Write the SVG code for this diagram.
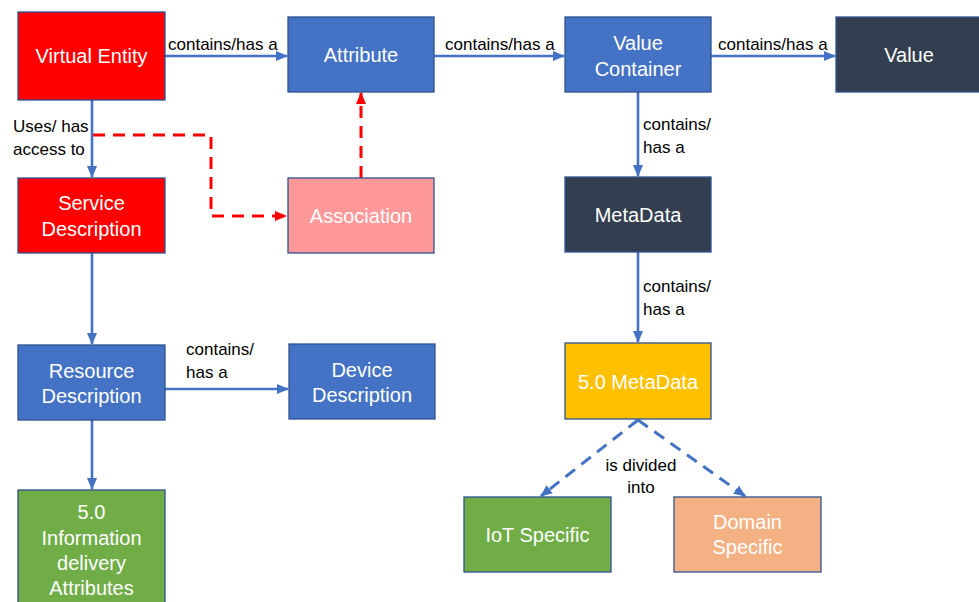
<svg xmlns="http://www.w3.org/2000/svg" width="979" height="602" viewBox="0 0 979 602">
<style>
.n{stroke:#2F528F;stroke-width:1.3}
.t{font-family:"Liberation Sans",Arial,sans-serif;font-size:20px;fill:#fff;text-anchor:middle}
.l{font-family:"Liberation Sans",Arial,sans-serif;font-size:17px;fill:#000}
.b{stroke:#4472C4;stroke-width:2.6;fill:none}
.bd{stroke:#4472C4;stroke-width:3;fill:none;stroke-dasharray:12 8}
.rd{stroke:#FF0000;stroke-width:3;fill:none;stroke-dasharray:12 8}
</style>
<defs>
<marker id="ab" markerUnits="userSpaceOnUse" markerWidth="12" markerHeight="12" viewBox="0 0 12 12" refX="11" refY="6" orient="auto"><path d="M0,1 L12,6 L0,11 Z" fill="#4472C4"/></marker>
<marker id="ar" markerUnits="userSpaceOnUse" markerWidth="12" markerHeight="12" viewBox="0 0 12 12" refX="11" refY="6" orient="auto"><path d="M0,1 L12,6 L0,11 Z" fill="#FF0000"/></marker>
</defs>
<rect width="979" height="602" fill="#fff"/>
<g id="connectors">
<line class="b" x1="165" y1="56" x2="287" y2="56" marker-end="url(#ab)"/>
<text class="l" x="168" y="50">contains/has a</text>
<line class="b" x1="434" y1="56" x2="564" y2="56" marker-end="url(#ab)"/>
<text class="l" x="445" y="50">contains/has a</text>
<line class="b" x1="711" y1="56" x2="835" y2="56" marker-end="url(#ab)"/>
<text class="l" x="718" y="50">contains/has a</text>
<line class="b" x1="638" y1="92" x2="638" y2="176" marker-end="url(#ab)"/>
<text class="l" x="643" y="130">contains/</text>
<text class="l" x="643" y="153">has a</text>
<line class="b" x1="638" y1="252" x2="638" y2="342" marker-end="url(#ab)"/>
<text class="l" x="643" y="292">contains/</text>
<text class="l" x="643" y="315">has a</text>
<line class="b" x1="92" y1="100" x2="92" y2="177" marker-end="url(#ab)"/>
<text class="l" x="13" y="132">Uses/ has</text>
<text class="l" x="13" y="155">access to</text>
<line class="b" x1="92" y1="253" x2="92" y2="344" marker-end="url(#ab)"/>
<line class="b" x1="165" y1="389" x2="288" y2="389" marker-end="url(#ab)"/>
<text class="l" x="186" y="355">contains/</text>
<text class="l" x="186" y="378">has a</text>
<line class="b" x1="92" y1="420" x2="92" y2="489" marker-end="url(#ab)"/>
<path class="rd" d="M93,135 H211 V216 H286" marker-end="url(#ar)"/>
<line class="rd" x1="361" y1="178" x2="361" y2="93" marker-end="url(#ar)"/>
<line class="bd" x1="638" y1="420" x2="541" y2="496" marker-end="url(#ab)"/>
<line class="bd" x1="638" y1="420" x2="745" y2="496" marker-end="url(#ab)"/>
<text class="l" x="641" y="471" text-anchor="middle">is divided</text>
<text class="l" x="641" y="493" text-anchor="middle">into</text>
</g>
<g id="virtual-entity"><rect class="n" x="18" y="12" width="147" height="88" fill="#FF0000"/><text class="t" x="91.5" y="63">Virtual Entity</text></g>
<g id="attribute"><rect class="n" x="288" y="17" width="146" height="75" fill="#4472C4"/><text class="t" x="361" y="62">Attribute</text></g>
<g id="value-container"><rect class="n" x="565" y="17" width="146" height="75" fill="#4472C4"/><text class="t" x="638" y="50">Value</text><text class="t" x="638" y="76">Container</text></g>
<g id="value"><rect class="n" x="836" y="17" width="150" height="75" fill="#333F50"/><text class="t" x="909" y="62">Value</text></g>
<g id="service-description"><rect class="n" x="18" y="178" width="147" height="75" fill="#FF0000"/><text class="t" x="91.5" y="210">Service</text><text class="t" x="91.5" y="236">Description</text></g>
<g id="association"><rect class="n" x="288" y="178" width="146" height="75" fill="#FF9999"/><text class="t" x="361" y="223">Association</text></g>
<g id="metadata"><rect class="n" x="565" y="177" width="146" height="75" fill="#333F50"/><text class="t" x="638" y="222">MetaData</text></g>
<g id="resource-description"><rect class="n" x="18" y="345" width="147" height="75" fill="#4472C4"/><text class="t" x="91.5" y="378">Resource</text><text class="t" x="91.5" y="403">Description</text></g>
<g id="device-description"><rect class="n" x="289" y="344" width="146" height="75" fill="#4472C4"/><text class="t" x="362" y="377">Device</text><text class="t" x="362" y="402">Description</text></g>
<g id="info-delivery"><rect class="n" x="18" y="490" width="147" height="125" fill="#70AD47"/><text class="t" x="91.5" y="519">5.0</text><text class="t" x="91.5" y="545">Information</text><text class="t" x="91.5" y="570">delivery</text><text class="t" x="91.5" y="595">Attributes</text></g>
<g id="metadata-5"><rect class="n" x="565" y="343" width="146" height="76" fill="#FFC000"/><text class="t" x="638" y="389">5.0 MetaData</text></g>
<g id="iot-specific"><rect class="n" x="464" y="497" width="147" height="75" fill="#70AD47"/><text class="t" x="537.5" y="542">IoT Specific</text></g>
<g id="domain-specific"><rect class="n" x="674" y="497" width="147" height="75" fill="#F4B183"/><text class="t" x="747.5" y="529">Domain</text><text class="t" x="747.5" y="554">Specific</text></g>
</svg>
